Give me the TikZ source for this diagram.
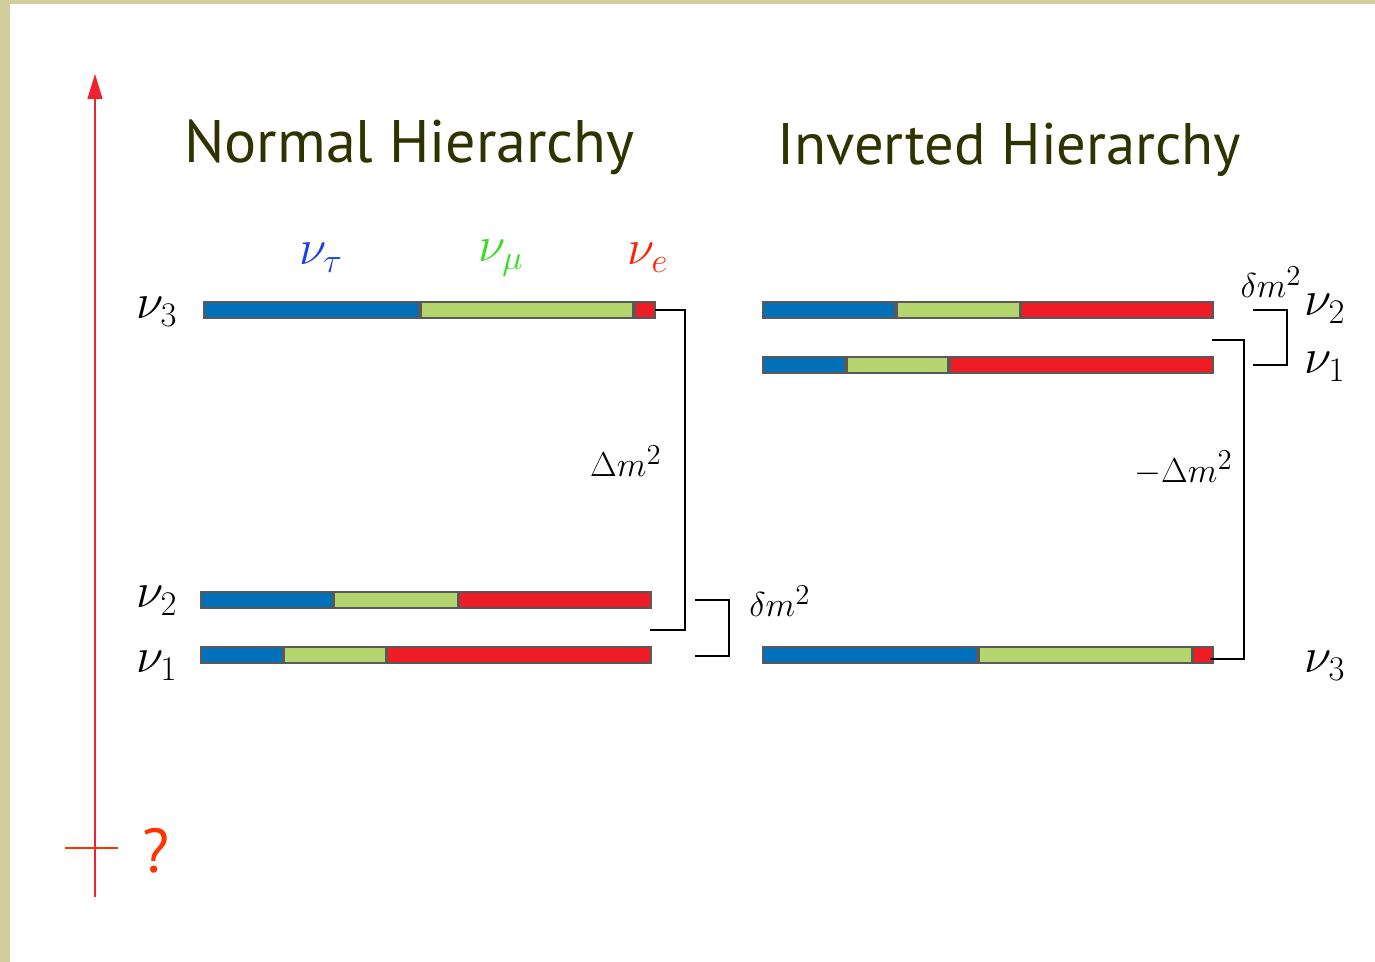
\documentclass[tikz,border=0pt]{standalone}
\usepackage{fontspec}
\newfontfamily\titlefont{PT Sans}
\usetikzlibrary{arrows.meta,fit}
\definecolor{bgpaper}{HTML}{D2CE9C}
\definecolor{titlecol}{HTML}{2E3300}
\definecolor{barblue}{HTML}{0070B8}
\definecolor{bargreen}{HTML}{B5D56E}
\definecolor{barred}{HTML}{EE1C25}
\definecolor{labblue}{HTML}{1A40E8}
\definecolor{labgreen}{HTML}{30E020}
\definecolor{labred}{HTML}{FF2200}
\definecolor{axisred}{HTML}{EE2230}
\definecolor{qred}{HTML}{FF3300}
\tikzset{
  seg/.style={draw=black!65, line width=0.6pt, inner sep=0pt, outer sep=0pt},
  bracket/.style={draw=black, line width=1.4pt},
  nulab/.style={font=\fontsize{25}{30}\selectfont, inner sep=0pt},
  mlab/.style={font=\fontsize{19}{23}\selectfont, inner sep=0pt},
  ttl/.style={text=titlecol, inner sep=0pt, anchor=base west},
}
\begin{document}
\begin{tikzpicture}[x=0.5pt,y=-0.5pt]
% background
\fill[bgpaper] (0,0) rectangle (1375,962);
\fill[white] (10,4) rectangle (1375,962);
\useasboundingbox (0,0) rectangle (1375,962);

% axis
\coordinate (axb) at (95,897);
\coordinate (axt) at (95,74);
\draw[axisred, line width=0.6pt, -{Triangle[width=7.5pt,length=12.5pt]}] (axb) -- (axt);
\coordinate (tl) at (65,848);
\coordinate (tr) at (118,848);
\draw[qred, line width=1pt] (tl) -- (tr);
\node[font=\titlefont\fontsize{31}{36}\selectfont, text=qred, inner sep=0pt] (q) at (156,851) {?};

% titles
\node[ttl, font=\titlefont\fontsize{30}{36}\selectfont] (tnh) at (184,163) {Normal Hierarchy};
\node[ttl, font=\titlefont\fontsize{29.3}{36}\selectfont] (tih) at (777,165) {Inverted Hierarchy};

% flavour labels
\node[nulab, text=labblue] (lt) at (321,258) {$\nu_\tau$};
\node[nulab, text=labgreen] (lm) at (501,258) {$\nu_\mu$};
\node[nulab, text=labred] (le) at (648,258) {$\nu_e$};

% NH bars
\node[seg, fill=barblue, fit={(204,302)(419,318)}] (a3b) {};
\node[seg, fill=bargreen, fit={(421,302)(633,318)}] (a3g) {};
\node[seg, fill=barred, fit={(635,302)(655,318)}] (a3r) {};
\node[seg, fill=barblue, fit={(201,592)(333,608)}] (a2b) {};
\node[seg, fill=bargreen, fit={(334,592)(458,608)}] (a2g) {};
\node[seg, fill=barred, fit={(459,592)(651,608)}] (a2r) {};
\node[seg, fill=barblue, fit={(201,647)(283,663)}] (a1b) {};
\node[seg, fill=bargreen, fit={(284,647)(386,663)}] (a1g) {};
\node[seg, fill=barred, fit={(387,647)(651,663)}] (a1r) {};

\node[nulab] (na3) at (157,312) {$\nu_3$};
\node[nulab] (na2) at (157,601) {$\nu_2$};
\node[nulab] (na1) at (157,666) {$\nu_1$};

% NH brackets
\coordinate (nhD) at (650,630);
\draw[bracket] (a3r.east) -- ++(30,0) |- (nhD);
\node[mlab, anchor=east] (lD) at (662,461) {$\Delta m^2$};
\coordinate (nhd1) at (695,600);
\coordinate (nhd2) at (695,656);
\draw[bracket] (nhd1) -- ++(34,0) |- (nhd2);
\node[mlab, anchor=west] (ld) at (749,601) {$\delta m^2$};

% IH bars
\node[seg, fill=barblue, fit={(763,302)(895,318)}] (b2b) {};
\node[seg, fill=bargreen, fit={(897,302)(1020,318)}] (b2g) {};
\node[seg, fill=barred, fit={(1021,302)(1213,318)}] (b2r) {};
\node[seg, fill=barblue, fit={(763,357)(845,373)}] (b1b) {};
\node[seg, fill=bargreen, fit={(847,357)(948,373)}] (b1g) {};
\node[seg, fill=barred, fit={(950,357)(1213,373)}] (b1r) {};
\node[seg, fill=barblue, fit={(763,647)(977,663)}] (b3b) {};
\node[seg, fill=bargreen, fit={(979,647)(1192,663)}] (b3g) {};
\node[seg, fill=barred, fit={(1193,647)(1213,663)}] (b3r) {};

\node[nulab] (nb2) at (1325,309) {$\nu_2$};
\node[nulab] (nb1) at (1325,367) {$\nu_1$};
\node[nulab] (nb3) at (1325,666) {$\nu_3$};

% IH brackets
\coordinate (ihd1) at (1253,310);
\coordinate (ihd2) at (1253,365);
\draw[bracket] (ihd1) -- ++(34,0) |- (ihd2);
\node[mlab] (ld2) at (1271,282) {$\delta m^2$};
\coordinate (ihD) at (1212,340);
\coordinate (ihE) at (1210,659);
\draw[bracket] (ihD) -- ++(32,0) |- (ihE);
\node[mlab, anchor=east] (lD2) at (1233,468) {$-\Delta m^2$};
\end{tikzpicture}
\end{document}
